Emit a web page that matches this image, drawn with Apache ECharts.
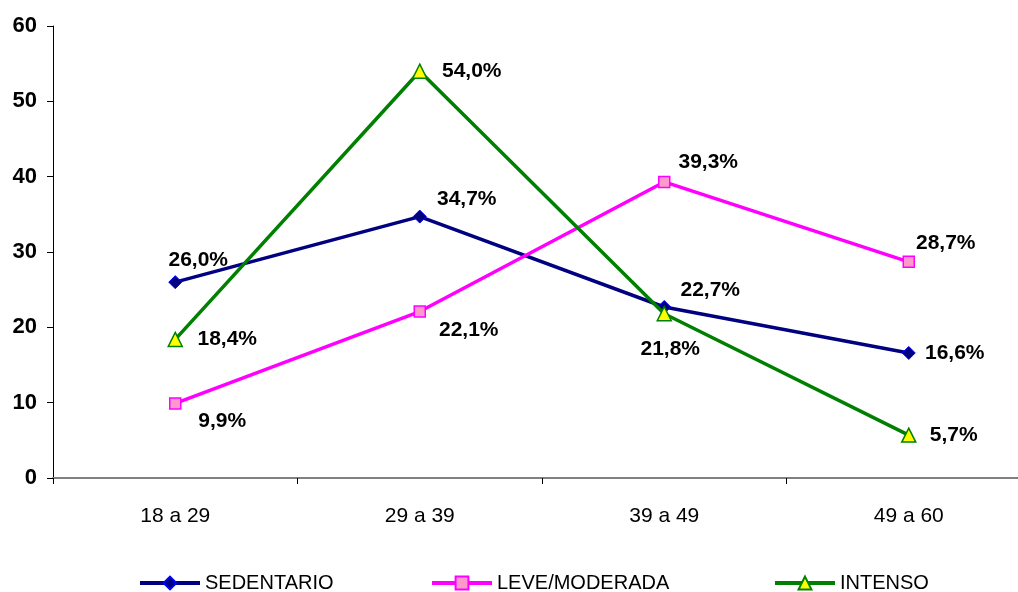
<!DOCTYPE html>
<html>
<head>
<meta charset="utf-8">
<script src="https://cdn.jsdelivr.net/npm/echarts@6/dist/echarts.min.js"></script>
<style>
  html, body { margin: 0; padding: 0; background: #fff; }
  #chart { width: 1018px; height: 592px; }
</style>
</head>
<body>
<div id="chart"></div>
<script>
// Age groups and activity level shares (%)
const categories = ['18 a 29', '29 a 39', '39 a 49', '49 a 60'];
const sedentario = [26.0, 34.7, 22.7, 16.6];
const leveModerada = [9.9, 22.1, 39.3, 28.7];
const intenso = [18.4, 54.0, 21.8, 5.7];
const yTicks = [0, 10, 20, 30, 40, 50, 60];
const seriesNames = ['SEDENTARIO', 'LEVE/MODERADA', 'INTENSO'];

// Label offsets (px) from each point, per series
const labelOffsets = {
  sed: [[23, -22], [47, -17], [46, -17], [46, 0]],
  leve: [[47, 18], [49, 19], [44, -20], [37, -19]],
  int: [[52, 0], [52, 0], [6, 35], [45, 0]]
};

// Left edge of each legend entry
const legendLefts = [133, 425, 768];

const FONT = 'Arial, "Liberation Sans", sans-serif';

function withLabels(values, offsets) {
  return values.map((v, i) => ({
    value: v,
    label: { offset: offsets[i] }
  }));
}

const labelStyle = {
  show: true,
  position: 'inside',
  align: 'center',
  verticalAlign: 'middle',
  color: '#000',
  fontFamily: FONT,
  fontWeight: 'bold',
  fontSize: 21,
  formatter: p => p.value.toFixed(1).replace('.', ',') + '%'
};

const chart = echarts.init(document.getElementById('chart'), null, { renderer: 'canvas' });

chart.setOption({
  animation: false,
  backgroundColor: '#fff',
  // the last category band runs past the right edge of the canvas
  grid: { left: 53, width: 978, top: 26, height: 452, containLabel: false, outerBoundsMode: 'none' },
  xAxis: {
    type: 'category',
    data: categories,
    boundaryGap: true,
    axisLine: { lineStyle: { color: '#808080', width: 2 } },
    axisTick: { show: true, length: 6, lineStyle: { color: '#000', width: 1 } },
    axisLabel: { color: '#000', fontFamily: FONT, fontSize: 21, margin: 28 },
    splitLine: { show: false }
  },
  yAxis: {
    type: 'value',
    min: yTicks[0],
    max: yTicks[yTicks.length - 1],
    interval: 10,
    axisLine: { show: true, lineStyle: { color: '#000', width: 1 } },
    axisTick: { show: true, length: 6, lineStyle: { color: '#000' } },
    axisLabel: { color: '#000', fontFamily: FONT, fontSize: 22, fontWeight: 'bold', margin: 16 },
    splitLine: { show: false }
  },
  legend: seriesNames.map((name, i) => ({
    top: 568,
    left: legendLefts[i],
    itemWidth: 60,
    itemHeight: 16,
    lineStyle: { width: 4 },
    textStyle: { color: '#000', fontFamily: FONT, fontSize: 20 },
    data: [name]
  })),
  series: [
    {
      name: seriesNames[0],
      type: 'line',
      data: withLabels(sedentario, labelOffsets.sed),
      symbol: 'diamond',
      symbolSize: 13,
      lineStyle: { color: '#000080', width: 3.5 },
      itemStyle: { color: '#000080', borderColor: '#0000FF', borderWidth: 1 },
      label: labelStyle,
      z: 2
    },
    {
      name: seriesNames[1],
      type: 'line',
      data: withLabels(leveModerada, labelOffsets.leve),
      symbol: 'rect',
      symbolSize: 11,
      lineStyle: { color: '#FF00FF', width: 3.5 },
      itemStyle: { color: '#FF99CC', borderColor: '#FF00FF', borderWidth: 1.5 },
      label: labelStyle,
      z: 3
    },
    {
      name: seriesNames[2],
      type: 'line',
      data: withLabels(intenso, labelOffsets.int),
      symbol: 'triangle',
      symbolSize: 14,
      lineStyle: { color: '#008000', width: 3.5 },
      itemStyle: { color: '#FFFF00', borderColor: '#008000', borderWidth: 1.5 },
      label: labelStyle,
      z: 4
    }
  ]
});
</script>
</body>
</html>
